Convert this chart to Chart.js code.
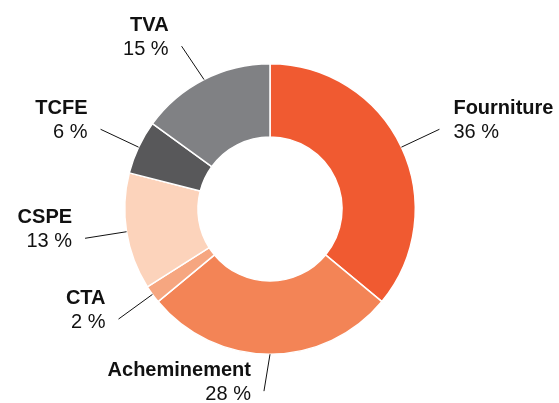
<!DOCTYPE html>
<html>
<head>
<meta charset="utf-8">
<script src="https://cdn.jsdelivr.net/npm/chart.js@4/dist/chart.umd.min.js"></script>
<style>
  html, body { margin: 0; padding: 0; background: #ffffff; }
  #wrap { width: 559px; height: 403px; position: relative; }
</style>
</head>
<body>
<div id="wrap"><canvas id="c" width="559" height="403"></canvas></div>
<script>
// ---- data ----
const categories = ["Fourniture", "Acheminement", "CTA", "CSPE", "TCFE", "TVA"];
const shares = [36, 28, 2, 13, 6, 15];
const valueLabels = ["36 %", "28 %", "2 %", "13 %", "6 %", "15 %"];

// ---- style ----
const sliceColors = ["#F05A31", "#F38456", "#F6A680", "#FCD3BB", "#58585A", "#808184"];
const leaderExtra = { "Acheminement": 37, "TVA": 40 };   // leader length overrides
const leaderTilt = { "Acheminement": 1.9, "TVA": -1.5 }; // degrees
const defaultLeader = 42;

const labelPlugin = {
  id: 'sliceLabels',
  afterDatasetsDraw(chart) {
    const ctx = chart.ctx;
    const meta = chart.getDatasetMeta(0);
    meta.data.forEach((arc, i) => {
      const p = arc.getProps(['x', 'y', 'startAngle', 'endAngle', 'outerRadius'], true);
      const mid = (p.startAngle + p.endAngle) / 2;
      const r0 = p.outerRadius;
      const len = leaderExtra[categories[i]] || defaultLeader;
      const tilt = (leaderTilt[categories[i]] || 0) * Math.PI / 180;
      const r1 = r0 + len;
      const sx = p.x + Math.cos(mid) * r0, sy = p.y + Math.sin(mid) * r0;
      const ex = p.x + Math.cos(mid + tilt) * r1, ey = p.y + Math.sin(mid + tilt) * r1;
      ctx.save();
      ctx.strokeStyle = '#111111';
      ctx.lineWidth = 1;
      ctx.beginPath();
      ctx.moveTo(sx, sy);
      ctx.lineTo(ex, ey);
      ctx.stroke();
      const right = Math.cos(mid + tilt) > 0.01;
      const tx = right ? ex + 14 : ex - 13;
      ctx.textAlign = right ? 'left' : 'right';
      ctx.textBaseline = 'alphabetic';
      ctx.fillStyle = '#111111';
      const vb = ey + 9;
      ctx.font = 'bold 20px "Liberation Sans", Arial, sans-serif';
      ctx.fillText(categories[i], tx, vb - 24);
      ctx.font = '20px "Liberation Sans", Arial, sans-serif';
      ctx.fillText(valueLabels[i], tx, vb);
      ctx.restore();
    });
  }
};

new Chart(document.getElementById('c'), {
  type: 'doughnut',
  data: {
    labels: categories,
    datasets: [{
      data: shares,
      backgroundColor: sliceColors,
      borderColor: '#ffffff',
      borderWidth: 1.5,
      hoverOffset: 0
    }]
  },
  options: {
    responsive: false,
    animation: false,
    cutout: '49.6%',
    layout: { padding: { left: 124, right: 143, top: 63, bottom: 48 } },
    plugins: {
      legend: { display: false },
      tooltip: { enabled: false }
    },
    events: []
  },
  plugins: [labelPlugin]
});
</script>
</body>
</html>
